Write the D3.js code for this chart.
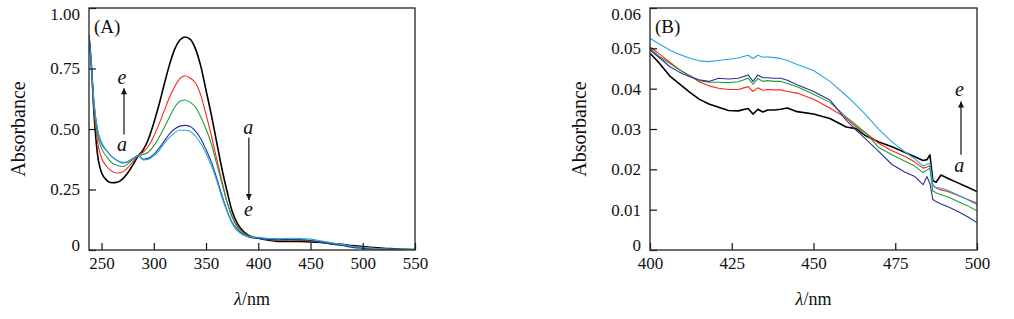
<!DOCTYPE html>
<html>
<head>
<meta charset="utf-8">
<script src="https://cdn.jsdelivr.net/npm/d3@7"></script>
<style>
  body { margin: 0; background: #fff; }
  svg text { font-family: "Liberation Serif", Tinos, "Times New Roman", Times, serif; fill: #111; }
</style>
</head>
<body>
<svg id="chart" width="1014" height="319"></svg>
<script>
// ---- data ----
// panel A: full spectra (a..e)
const lamA = [238, 240, 243, 246, 250, 255, 260, 265, 270, 275, 280, 285, 290, 295, 300, 305, 310, 315, 320, 325,
  330, 335, 340, 345, 350, 355, 360, 365, 370, 375, 380, 385, 390, 395, 400, 410, 420, 430, 440, 450,
  460, 470, 480, 490, 500, 510, 520, 530, 540, 550];
const absA_a = [0.885, 0.78, 0.55, 0.40, 0.32, 0.288, 0.278, 0.28, 0.293, 0.318, 0.352, 0.388, 0.415, 0.46, 0.525, 0.60, 0.685, 0.765, 0.83, 0.868,
  0.88, 0.87, 0.83, 0.76, 0.66, 0.56, 0.45, 0.34, 0.245, 0.16, 0.11, 0.08, 0.062, 0.053, 0.0488, 0.0405, 0.0352, 0.0350, 0.0349, 0.0337,
  0.0310, 0.0268, 0.0234, 0.0180, 0.0145, 0.010, 0.007, 0.005, 0.003, 0.002];
const absA_b = [0.885, 0.78, 0.57, 0.45, 0.38, 0.345, 0.325, 0.318, 0.322, 0.34, 0.365, 0.39, 0.405, 0.43, 0.47, 0.52, 0.575, 0.63, 0.675, 0.708,
  0.72, 0.71, 0.69, 0.64, 0.56, 0.475, 0.38, 0.29, 0.20, 0.14, 0.10, 0.075, 0.06, 0.053, 0.0504, 0.0422, 0.0401, 0.0403, 0.0396, 0.0376,
  0.0327, 0.0262, 0.0222, 0.0147, 0.0116, 0.0075, 0.005, 0.003, 0.002, 0.001];
const absA_c = [0.885, 0.78, 0.58, 0.48, 0.42, 0.385, 0.36, 0.35, 0.345, 0.355, 0.375, 0.39, 0.395, 0.405, 0.43, 0.465, 0.505, 0.55, 0.59, 0.615,
  0.62, 0.61, 0.59, 0.55, 0.50, 0.44, 0.36, 0.28, 0.20, 0.135, 0.095, 0.072, 0.058, 0.052, 0.050, 0.0435, 0.0416, 0.0426, 0.0418, 0.0388,
  0.0330, 0.0253, 0.0212, 0.0134, 0.0097, 0.006, 0.004, 0.003, 0.002, 0.001];
const absA_d = [0.885, 0.78, 0.60, 0.50, 0.44, 0.41, 0.385, 0.37, 0.36, 0.365, 0.378, 0.39, 0.375, 0.38, 0.395, 0.42, 0.45, 0.48, 0.50, 0.512,
  0.515, 0.51, 0.49, 0.46, 0.415, 0.365, 0.30, 0.23, 0.165, 0.115, 0.085, 0.066, 0.055, 0.05, 0.0496, 0.0432, 0.0426, 0.0434, 0.0426, 0.0395,
  0.0325, 0.0244, 0.0185, 0.0110, 0.0068, 0.004, 0.003, 0.002, 0.001, 0.001];
const absA_e = [0.885, 0.78, 0.60, 0.50, 0.445, 0.41, 0.385, 0.37, 0.362, 0.365, 0.378, 0.39, 0.372, 0.375, 0.39, 0.41, 0.44, 0.465, 0.485, 0.495,
  0.495, 0.49, 0.47, 0.44, 0.40, 0.35, 0.29, 0.22, 0.16, 0.11, 0.08, 0.063, 0.056, 0.053, 0.0525, 0.0476, 0.0470, 0.0483, 0.0475, 0.0448,
  0.0380, 0.0300, 0.0234, 0.0151, 0.0112, 0.007, 0.004, 0.003, 0.002, 0.001];

// panel B: 400-500 nm detail
const lamB = [400, 403, 406, 409, 412, 415, 418, 421, 424, 427, 430, 431.5, 433, 434.5, 436, 438, 440, 442, 445, 450,
  455, 460, 463, 466, 470, 474, 478, 481, 483.5, 484.7, 485.6, 486.5, 487.5, 489, 491, 494, 497, 500];
const absB_a = [0.0488, 0.0462, 0.0432, 0.0412, 0.0392, 0.0374, 0.0362, 0.0354, 0.0346, 0.0345, 0.0351, 0.0337, 0.0349, 0.0342, 0.0347, 0.0347, 0.0349, 0.0352, 0.0343, 0.0337,
  0.0326, 0.0305, 0.0301, 0.0283, 0.0268, 0.0256, 0.0242, 0.0231, 0.0222, 0.0224, 0.0236, 0.0172, 0.0168, 0.0186, 0.0178, 0.0167, 0.0156, 0.0145];
const absB_b = [0.0504, 0.0485, 0.0466, 0.0447, 0.0433, 0.0417, 0.0407, 0.0401, 0.0398, 0.0398, 0.0405, 0.0393, 0.0402, 0.0396, 0.0398, 0.0397, 0.0397, 0.0393, 0.0389, 0.0374,
  0.0352, 0.0327, 0.0305, 0.0290, 0.0264, 0.0246, 0.0232, 0.0218, 0.0203, 0.0206, 0.0209, 0.0160, 0.0154, 0.0149, 0.0145, 0.0136, 0.0126, 0.0116];
const absB_c = [0.0500, 0.0479, 0.0463, 0.0447, 0.0433, 0.0420, 0.0416, 0.0416, 0.0415, 0.0417, 0.0426, 0.0411, 0.0425, 0.0418, 0.0420, 0.0418, 0.0418, 0.0413, 0.0405, 0.0386,
  0.0366, 0.0330, 0.0310, 0.0290, 0.0254, 0.0236, 0.0220, 0.0208, 0.0192, 0.0198, 0.0203, 0.0146, 0.0142, 0.0137, 0.0132, 0.0121, 0.0110, 0.0097];
const absB_d = [0.0496, 0.0476, 0.0455, 0.0441, 0.0430, 0.0422, 0.0418, 0.0426, 0.0424, 0.0426, 0.0434, 0.0418, 0.0434, 0.0427, 0.0427, 0.0426, 0.0426, 0.0421, 0.0410, 0.0393,
  0.0372, 0.0322, 0.0297, 0.0275, 0.0244, 0.0212, 0.0193, 0.0182, 0.0162, 0.0182, 0.0165, 0.0125, 0.0120, 0.0114, 0.0108, 0.0096, 0.0083, 0.0068];
const absB_e = [0.0525, 0.0510, 0.0496, 0.0485, 0.0476, 0.0469, 0.0467, 0.0470, 0.0473, 0.0476, 0.0483, 0.0475, 0.0483, 0.0478, 0.0479, 0.0477, 0.0475, 0.0470, 0.0460, 0.0445,
  0.0418, 0.0383, 0.0360, 0.0335, 0.0299, 0.0268, 0.0243, 0.0226, 0.0208, 0.0212, 0.0216, 0.0160, 0.0155, 0.0153, 0.0148, 0.0137, 0.0125, 0.0112];

const seriesNames = ["a", "b", "c", "d", "e"];
const seriesColors = ["#000000", "#ff2419", "#1e9e3a", "#2b2f8f", "#25a6e4"];

const xTicksA = [250, 300, 350, 400, 450, 500, 550];
const yTicksA = [0, 0.25, 0.5, 0.75, 1.0];
const xTicksB = [400, 425, 450, 475, 500];
const yTicksB = [0, 0.01, 0.02, 0.03, 0.04, 0.05, 0.06];

// arrows: x, start, tip, and labels (data units)
const arrowsA = [
  { x: 271.5, y1: 0.477, y2: 0.668, lx: 269.5, labels: [["e", 0.714], ["a", 0.436]] },
  { x: 391, y1: 0.465, y2: 0.207, lx: 390.5, labels: [["a", 0.51], ["e", 0.17]] }
];
const arrowsB = [
  { x: 495.1, y1: 0.0236, y2: 0.0368, lx: 494.6, labels: [["e", 0.0398], ["a", 0.0211]] }
];

const serif = '"Liberation Serif", Tinos, "Times New Roman", Times, serif';
const svg = d3.select("#chart");

svg.append("defs").append("marker")
  .attr("id", "head")
  .attr("viewBox", "0 0 10 10")
  .attr("refX", 10).attr("refY", 5)
  .attr("markerUnits", "userSpaceOnUse")
  .attr("markerWidth", 9).attr("markerHeight", 6)
  .attr("orient", "auto")
  .append("path").attr("d", "M0,0L10,5L0,10z").attr("fill", "#111");

const fmt = d => d === 0 ? "0" : d.toFixed(2);

function drawPanel(p) {
  const x = d3.scaleLinear().domain(p.xDomain).range([p.left, p.right]);
  const y = d3.scaleLinear().domain(p.yDomain).range([p.bottom, p.top]);
  const g = svg.append("g").attr("font-family", serif);

  g.append("clipPath").attr("id", "clip" + p.id)
    .append("rect").attr("x", p.left).attr("y", p.top)
    .attr("width", p.right - p.left).attr("height", p.bottom - p.top);

  const line = d3.line().x(d => x(d[0])).y(d => y(d[1])).curve(p.curve);
  const plot = g.append("g").attr("clip-path", `url(#clip${p.id})`);
  p.series.forEach((vals, i) => {
    plot.append("path")
      .datum(p.lam.map((l, k) => [l, vals[k]]))
      .attr("fill", "none")
      .attr("stroke", seriesColors[i])
      .attr("stroke-width", i === 0 ? 1.6 : 1.1)
      .attr("stroke-linejoin", "round")
      .attr("d", line);
  });

  // axes with inward ticks
  const xa = g.append("g").attr("transform", `translate(0,${p.bottom})`)
    .call(d3.axisBottom(x).tickValues(p.xTicks).tickSizeInner(-7).tickSizeOuter(0).tickPadding(7).tickFormat(d3.format("d")));
  const ya = g.append("g").attr("transform", `translate(${p.left},0)`)
    .call(d3.axisLeft(y).tickValues(p.yTicks).tickSizeInner(-7).tickSizeOuter(0).tickPadding(9).tickFormat(fmt));
  [xa, ya].forEach(a => {
    a.attr("font-family", serif);
    a.select(".domain").remove();
    a.selectAll("line").attr("stroke", "#111").attr("stroke-width", 1.2);
    a.selectAll("text").attr("font-size", 17).attr("fill", "#111").style("font-family", serif);
  });
  // extreme y labels sit inside the frame height
  ya.selectAll(".tick text").filter(d => d === p.yDomain[1]).attr("dy", "0.7em");
  ya.selectAll(".tick text").filter(d => d === 0).attr("dy", "0.02em");

  g.append("rect").attr("x", p.left).attr("y", p.top)
    .attr("width", p.right - p.left).attr("height", p.bottom - p.top)
    .attr("fill", "none").attr("stroke", "#222").attr("stroke-width", 1.3);

  g.append("text").attr("x", p.left + 5).attr("y", p.top + 25)
    .attr("font-size", 19).text(p.label);

  g.append("text")
    .attr("transform", `translate(${p.left - 71},${(p.top + p.bottom) / 2}) rotate(-90)`)
    .attr("text-anchor", "middle").attr("dominant-baseline", "central")
    .attr("font-size", 20).text("Absorbance");

  const xt = g.append("text").attr("x", (p.left + p.right) / 2).attr("y", 305)
    .attr("text-anchor", "middle").attr("font-size", 18);
  xt.append("tspan").attr("font-style", "italic").text("λ");
  xt.append("tspan").text("/nm");

  p.arrows.forEach(a => {
    g.append("line")
      .attr("x1", x(a.x)).attr("x2", x(a.x))
      .attr("y1", y(a.y1)).attr("y2", y(a.y2))
      .attr("stroke", "#111").attr("stroke-width", 1.2)
      .attr("marker-end", "url(#head)");
    a.labels.forEach(([t, v]) => {
      g.append("text").attr("x", x(a.lx)).attr("y", y(v))
        .attr("text-anchor", "middle").attr("dominant-baseline", "central")
        .attr("font-size", 20).attr("font-style", "italic").text(t);
    });
  });
}

drawPanel({
  id: "A", left: 89, right: 415, top: 8, bottom: 250,
  xDomain: [238, 550], yDomain: [0, 1.0],
  xTicks: xTicksA, yTicks: yTicksA,
  lam: lamA, series: [absA_a, absA_b, absA_c, absA_d, absA_e],
  curve: d3.curveMonotoneX, label: "(A)", arrows: arrowsA
});

drawPanel({
  id: "B", left: 650, right: 977, top: 8, bottom: 250,
  xDomain: [400, 500], yDomain: [0, 0.06],
  xTicks: xTicksB, yTicks: yTicksB,
  lam: lamB, series: [absB_a, absB_b, absB_c, absB_d, absB_e],
  curve: d3.curveLinear, label: "(B)", arrows: arrowsB
});
</script>
</body>
</html>
